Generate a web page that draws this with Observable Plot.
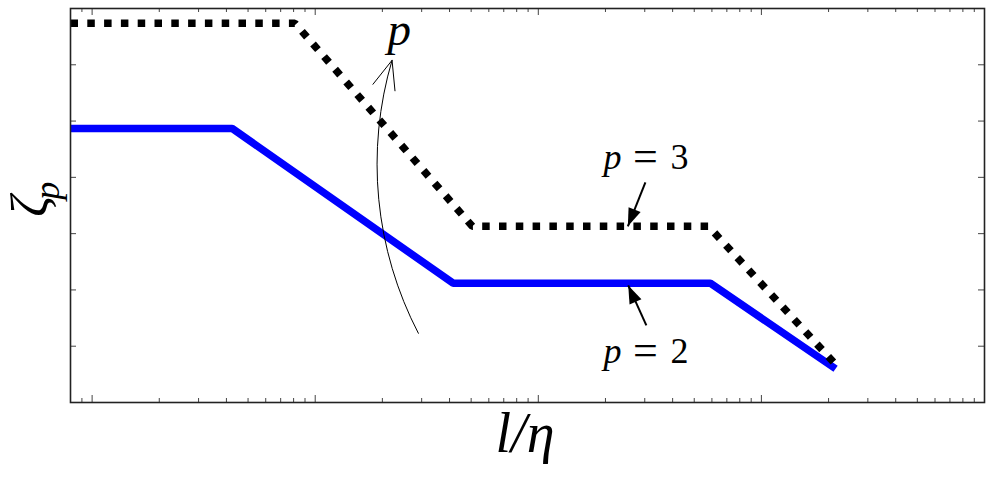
<!DOCTYPE html>
<html><head><meta charset="utf-8">
<script src="https://cdn.jsdelivr.net/npm/d3@7"></script>
<script src="https://cdn.jsdelivr.net/npm/@observablehq/plot@0.6"></script>
<style>body{margin:0;background:#fff}</style>
</head><body><div id="chart"></div>
<script>
// Series (x: l/eta on log scale, y: zeta_p)
const xP2 = [0.8, 4.24, 41.5, 590, 2150];
const yP2 = [4.87, 4.87, 2.12, 2.12, 0.6];
const xP3 = [0.8, 8.1, 50.6, 579, 2170];
const yP3 = [6.74, 6.74, 3.13, 3.13, 0.66];

// Ticks
const xDecades = [1, 10, 100, 1000, 10000];
const xMinorMultipliers = [2, 3, 4, 5, 6, 7, 8, 9];
const xMinorExtra = [0.8, 0.9];
const yTicks = [1, 2, 3, 4, 5, 6];

// Annotations
const curveArrow = [{x1: 29, y1: 1.23, x2: 22.1, y2: 6.08}];
const pLabel = [{x: 23.8, y: 6.62, text: "p"}];
const labelArrows = [
  {x1: 302, y1: 3.91, x2: 252, y2: 3.13, angle: 202},
  {x1: 305, y1: 1.37, x2: 253, y2: 2.08, angle: -23.7}
];
const pEqLabels = [
  {x: 302, y: 4.36, num: "3"},
  {x: 302, y: 0.915, num: "2"}
];

const W = 992, H = 481;
const mL = 70, mR = 8, mT = 8, mB = 79;
const innerW = W - mL - mR, innerH = H - mT - mB;

const xMinor = xMinorExtra.concat(...xDecades.slice(0, 4).map(d => xMinorMultipliers.map(m => m * d)));

const p2 = xP2.map((x, i) => ({x, y: yP2[i]}));
const p3 = xP3.map((x, i) => ({x, y: yP3[i]}));

const serif = "'Liberation Serif', 'Times New Roman', serif";
const tickColor = "#444";

// narrow filled arrowhead, tip at origin pointing up
const headSymbol = {
  draw(context) {
    context.moveTo(0, 0);
    context.lineTo(6.5, 18);
    context.lineTo(-6.5, 18);
    context.closePath();
  }
};

const chart = Plot.plot({
  width: W, height: H,
  marginLeft: mL, marginRight: mR, marginTop: mT, marginBottom: mB,
  x: {type: "log", domain: [0.8, 10000], axis: null},
  y: {domain: [0, 7], axis: null},
  style: {background: "#fff", overflow: "visible"},
  marks: [
    // ticks (inward)
    Plot.tickX(xDecades, {x: d => d, insetTop: innerH - 7, stroke: tickColor, strokeWidth: 1}),
    Plot.tickX(xDecades, {x: d => d, insetBottom: innerH - 7, stroke: tickColor, strokeWidth: 1}),
    Plot.tickX(xMinor, {x: d => d, insetTop: innerH - 4, stroke: tickColor, strokeWidth: 1}),
    Plot.tickX(xMinor, {x: d => d, insetBottom: innerH - 4, stroke: tickColor, strokeWidth: 1}),
    Plot.tickY(yTicks, {y: d => d, insetRight: innerW - 6, stroke: tickColor, strokeWidth: 1}),
    Plot.tickY(yTicks, {y: d => d, insetLeft: innerW - 6, stroke: tickColor, strokeWidth: 1}),
    // series
    Plot.line(p2, {x: "x", y: "y", stroke: "#0000ff", strokeWidth: 7.5, strokeLinecap: "butt", strokeLinejoin: "miter"}),
    Plot.line(p3, {x: "x", y: "y", stroke: "#000", strokeWidth: 7.5, strokeLinecap: "butt", strokeLinejoin: "miter", strokeDasharray: "7.5,9.3"}),
    // curved arrow "p"
    Plot.arrow(curveArrow, {x1: "x1", y1: "y1", x2: "x2", y2: "y2", bend: 22, stroke: "#000", strokeWidth: 1, headLength: 46, headAngle: 44}),
    Plot.text(pLabel, {x: "x", y: "y", text: "text", fontSize: 47, fontStyle: "italic", fontFamily: serif, fill: "#000"}),
    // p=3, p=2 labels with arrows
    Plot.link(labelArrows, {x1: "x1", y1: "y1", x2: "x2", y2: "y2", stroke: "#000", strokeWidth: 2}),
    Plot.dot(labelArrows, {x: "x2", y: "y2", symbol: headSymbol, rotate: "angle", fill: "#000", stroke: "none"}),
    Plot.text(pEqLabels, {x: "x", y: "y", text: () => "p", fontSize: 36, fontStyle: "italic", fontFamily: serif, dx: -33, fill: "#000"}),
    Plot.text(pEqLabels, {x: "x", y: "y", text: () => "=", fontSize: 44, fontFamily: serif, dx: 0, fill: "#000"}),
    Plot.text(pEqLabels, {x: "x", y: "y", text: "num", fontSize: 36, fontFamily: serif, dx: 34, fill: "#000"}),
    // axis labels
    Plot.text([89], {x: d => d, frameAnchor: "bottom", dy: 49, dx: -2, text: () => "l/η", fontSize: 56, fontStyle: "italic", fontFamily: serif, fill: "#000"}),
    Plot.text([3.3], {y: d => d, frameAnchor: "left", dx: -40, rotate: -90, text: () => "ζ", fontSize: 52, fontStyle: "italic", fontFamily: serif, fill: "#000"}),
    Plot.text([3.6], {y: d => d, frameAnchor: "left", dx: -23, rotate: -90, text: () => "p", fontSize: 36, fontStyle: "italic", fontFamily: serif, fill: "#000"}),
    Plot.frame({stroke: "#222", strokeWidth: 1.6})
  ]
});
document.getElementById("chart").append(chart);
</script>
</body></html>
